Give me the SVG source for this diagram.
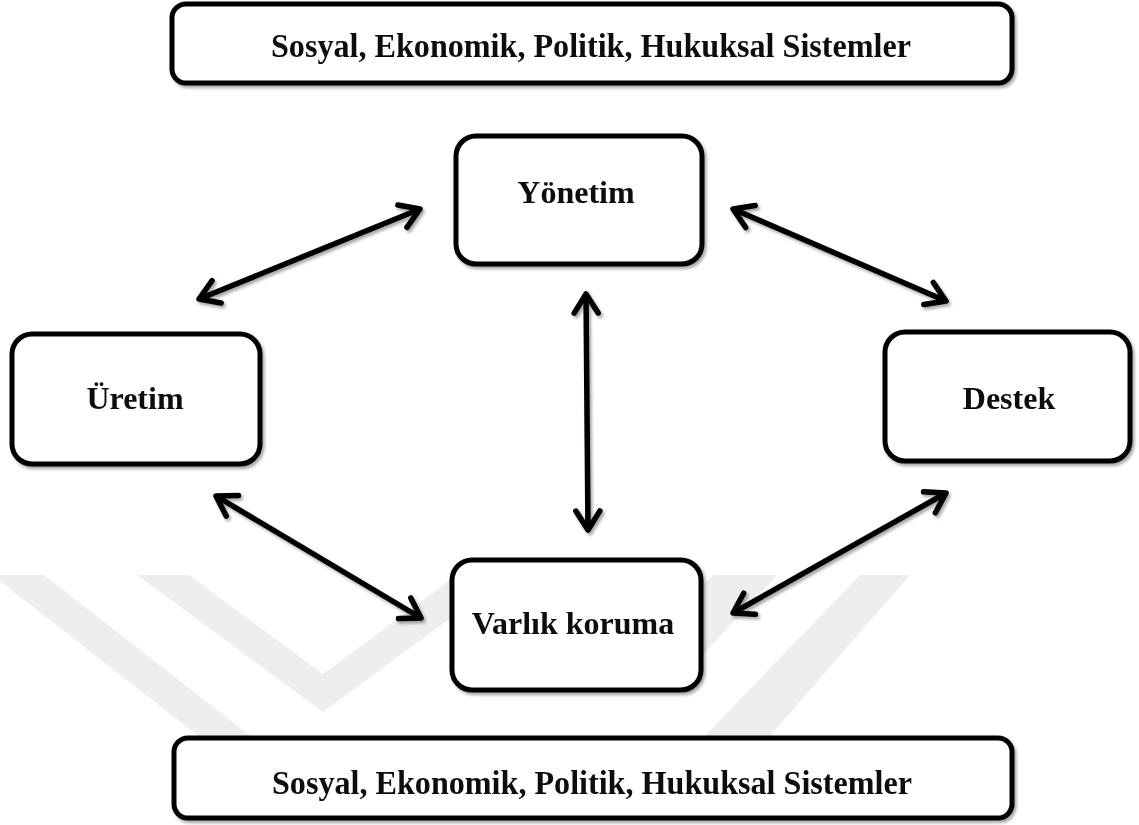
<svg xmlns="http://www.w3.org/2000/svg" width="1139" height="825" viewBox="0 0 1139 825">
<style>
.box{fill:#fff;stroke:#000;stroke-width:5}
.lbl{font-family:"Liberation Serif","Times New Roman",serif;font-weight:bold;font-size:32px;fill:#111;text-anchor:middle}
.sys{font-size:34px}
.conn{stroke:#000;stroke-width:5.5;fill:none;marker-start:url(#ah);marker-end:url(#ah)}
.wm{fill:#eeeeee}
</style>
<defs>
<filter id="sh" x="-10%" y="-10%" width="120%" height="130%">
<feDropShadow dx="2" dy="2.5" stdDeviation="1.6" flood-color="#000" flood-opacity="0.35"/>
</filter>
<marker id="ah" viewBox="-24 -16 30 32" markerWidth="30" markerHeight="32" refX="0" refY="0" orient="auto-start-reverse" markerUnits="userSpaceOnUse">
<path d="M-19,-12 L0,0 L-19,12" fill="none" stroke="#000" stroke-width="5.5" stroke-linecap="round" stroke-linejoin="round"/>
</marker>
</defs>
<rect width="1139" height="825" fill="#fff"/>
<g id="watermark">
<polygon class="wm" points="-8,575 44,575 262,745 210,745"/>
<polygon class="wm" points="137,575 189,575 323,674 457,575 509,575 323,712"/>
<polygon class="wm" points="713,575 777,575 672,688 608,688"/>
<polygon class="wm" points="860,575 910,575 762,745 696,745"/>
</g>
<g id="connectors" filter="url(#sh)">
<line class="conn" x1="199" y1="299" x2="420" y2="209"/>
<line class="conn" x1="733" y1="209" x2="946" y2="301"/>
<line class="conn" x1="586" y1="294" x2="588" y2="530"/>
<line class="conn" x1="216" y1="496" x2="421" y2="618"/>
<line class="conn" x1="946" y1="493" x2="733" y2="613"/>
</g>
<g id="top-systems" filter="url(#sh)">
<rect class="box" x="172" y="4" width="840" height="79" rx="14"/>
<text class="lbl sys" x="591" y="57" textLength="640" lengthAdjust="spacingAndGlyphs">Sosyal, Ekonomik, Politik, Hukuksal Sistemler</text>
</g>
<g id="yonetim" filter="url(#sh)">
<rect class="box" x="456" y="136" width="246" height="128" rx="20"/>
<text class="lbl" x="576" y="203">Yönetim</text>
</g>
<g id="uretim" filter="url(#sh)">
<rect class="box" x="12" y="334" width="248" height="130" rx="20"/>
<text class="lbl" x="135" y="409">Üretim</text>
</g>
<g id="destek" filter="url(#sh)">
<rect class="box" x="885" y="332" width="245" height="129" rx="20"/>
<text class="lbl" x="1009" y="409">Destek</text>
</g>
<g id="varlik-koruma" filter="url(#sh)">
<rect class="box" x="452" y="560" width="249" height="130" rx="20"/>
<text class="lbl" x="573" y="634">Varlık koruma</text>
</g>
<g id="bottom-systems" filter="url(#sh)">
<rect class="box" x="174" y="738" width="838" height="80" rx="14"/>
<text class="lbl sys" x="592" y="794" textLength="640" lengthAdjust="spacingAndGlyphs">Sosyal, Ekonomik, Politik, Hukuksal Sistemler</text>
</g>
</svg>
